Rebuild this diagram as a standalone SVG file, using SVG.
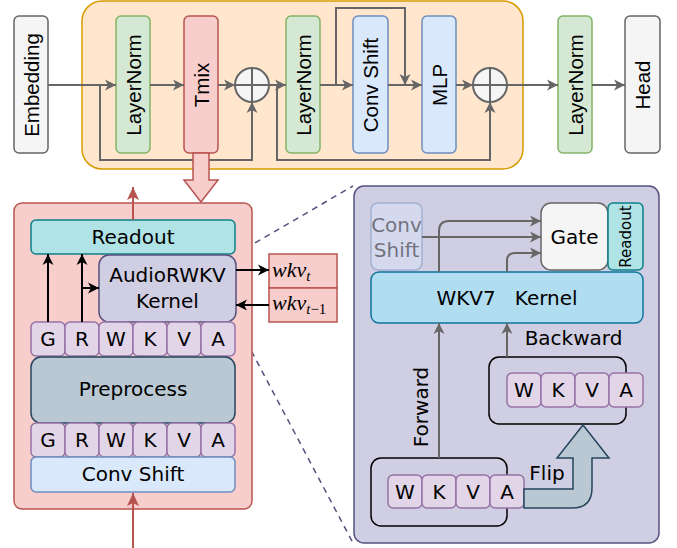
<svg xmlns="http://www.w3.org/2000/svg" width="677" height="548" viewBox="0 0 677 548">
<defs>
<style>
.t{font-family:"Liberation Sans",Arial,sans-serif;font-size:20.5px;fill:#000;text-anchor:middle;dominant-baseline:central}
.d{font-family:"DejaVu Sans",Verdana,sans-serif;font-size:20px;fill:#000;text-anchor:middle;dominant-baseline:central}
.m{font-family:"Liberation Serif","Times New Roman",serif;font-style:italic;font-size:22px;fill:#000}
.g{fill:none;stroke:#666;stroke-width:2}
.gk{fill:none;stroke:#000;stroke-width:2}
.rd{fill:none;stroke:#b85450;stroke-width:2}
.ln{fill:#d5e8d4;stroke:#82b366;stroke-width:1.5}
.gr{fill:#f5f5f5;stroke:#666;stroke-width:1.5}
.bl{fill:#dae8fc;stroke:#6c8ebf;stroke-width:1.5}
.cell{fill:#e1d5e7;stroke:#9673a6;stroke-width:1.5}
.ro{fill:#b0e3e6;stroke:#0e8088;stroke-width:1.5}
.pu{fill:#d0cee2;stroke:#56517e;stroke-width:1.5}
.dash{fill:none;stroke:#56517e;stroke-width:1.5;stroke-dasharray:6 5}
</style>
<marker id="ag" markerUnits="userSpaceOnUse" markerWidth="12" markerHeight="12" refX="11" refY="6" orient="auto">
<path d="M0,0.5 L11,6 L0,11.5 L3,6 Z" fill="#666"/>
</marker>
<marker id="ak" markerUnits="userSpaceOnUse" markerWidth="12" markerHeight="12" refX="11" refY="6" orient="auto">
<path d="M0,0.5 L11,6 L0,11.5 L3,6 Z" fill="#000"/>
</marker>
<marker id="ar" markerUnits="userSpaceOnUse" markerWidth="14" markerHeight="12" refX="13" refY="6" orient="auto">
<path d="M0,0 L13,6 L0,12 L3,6 Z" fill="#b85450"/>
</marker>
</defs>

<g id="block">
<rect x="82" y="1" width="441" height="168" rx="20" fill="#ffe6cc" stroke="#d79b00" stroke-width="1.5"/>
</g>

<g id="embedding"><rect class="gr" x="14" y="16" width="34" height="137" rx="5"/><text class="t" x="31" y="85" transform="rotate(-90 31 85)">Embedding</text></g>
<g id="ln1"><rect class="ln" x="116" y="16" width="34" height="137" rx="5"/><text class="t" x="133" y="85" transform="rotate(-90 133 85)">LayerNorm</text></g>
<g id="tmix"><rect x="184" y="16" width="34" height="137" rx="5" fill="#f8cecc" stroke="#b85450" stroke-width="1.5"/><text class="t" x="201" y="85" transform="rotate(-90 201 85)">Tmix</text></g>
<g id="add1"><circle cx="252" cy="85" r="17" fill="#f5f5f5" stroke="#666" stroke-width="2"/><path d="M252,68 V102 M235,85 H269" stroke="#666" stroke-width="2"/></g>
<g id="ln2"><rect class="ln" x="286" y="16" width="34" height="137" rx="5"/><text class="t" x="303" y="85" transform="rotate(-90 303 85)">LayerNorm</text></g>
<g id="convshift_top"><rect class="bl" x="353" y="16" width="35" height="137" rx="5"/><text class="t" x="370.5" y="85" transform="rotate(-90 370.5 85)">Conv Shift</text></g>
<g id="mlp"><rect class="bl" x="422" y="16" width="34" height="137" rx="5"/><text class="t" x="439" y="85" transform="rotate(-90 439 85)">MLP</text></g>
<g id="add2"><circle cx="490" cy="85" r="17" fill="#f5f5f5" stroke="#666" stroke-width="2"/><path d="M490,68 V102 M473,85 H507" stroke="#666" stroke-width="2"/></g>
<g id="ln3"><rect class="ln" x="558" y="16" width="34" height="137" rx="5"/><text class="t" x="575" y="85" transform="rotate(-90 575 85)">LayerNorm</text></g>
<g id="head"><rect class="gr" x="625" y="16" width="35" height="137" rx="5"/><text class="t" x="642.5" y="85" transform="rotate(-90 642.5 85)">Head</text></g>

<g id="connectors">
<path class="g" d="M48,85 H116" marker-end="url(#ag)"/>
<path class="g" d="M150,85 H184" marker-end="url(#ag)"/>
<path class="g" d="M218,85 H235" marker-end="url(#ag)"/>
<path class="g" d="M269,85 H286" marker-end="url(#ag)"/>
<path class="g" d="M100,85 V160 H252 V102" marker-end="url(#ag)"/>
<path class="g" d="M320,85 H353" marker-end="url(#ag)"/>
<path class="g" d="M336,85 V8 H405 V85" marker-end="url(#ag)"/>
<path class="g" d="M388,85 H422" marker-end="url(#ag)"/>
<path class="g" d="M456,85 H473" marker-end="url(#ag)"/>
<path class="g" d="M277,85 V160 H490 V102" marker-end="url(#ag)"/>
<path class="g" d="M507,85 H558" marker-end="url(#ag)"/>
<path class="g" d="M592,85 H625" marker-end="url(#ag)"/>
<path d="M193,153 H209 V180 H218 L201,202 L184,180 H193 Z" fill="#f8cecc" stroke="#b85450" stroke-width="1.5"/>
<path class="dash" d="M236,254 L353,186"/>
<path class="dash" d="M236,322 L353,543"/>
</g>

<g id="tmix_detail"><rect x="14" y="203" width="238" height="306" rx="8" fill="#f8cecc" stroke="#b85450" stroke-width="1.5"/></g>
<g id="readout"><rect class="ro" x="31" y="220" width="204" height="34" rx="5"/><text class="d" x="133" y="237">Readout</text></g>
<g id="audiokernel"><rect class="pu" x="99" y="255" width="137" height="67" rx="10"/><text class="d" x="167.5" y="275">AudioRWKV</text><text class="d" x="167.5" y="301">Kernel</text></g>
<g id="row1">
<rect class="cell" x="31" y="322" width="34" height="34" rx="5"/><text class="d" x="48" y="339">G</text>
<rect class="cell" x="65" y="322" width="34" height="34" rx="5"/><text class="d" x="82" y="339">R</text>
<rect class="cell" x="99" y="322" width="34" height="34" rx="5"/><text class="d" x="116" y="339">W</text>
<rect class="cell" x="133" y="322" width="34" height="34" rx="5"/><text class="d" x="150" y="339">K</text>
<rect class="cell" x="167" y="322" width="34" height="34" rx="5"/><text class="d" x="184" y="339">V</text>
<rect class="cell" x="201" y="322" width="34" height="34" rx="5"/><text class="d" x="218" y="339">A</text>
</g>
<g id="preprocess"><rect x="31" y="357" width="204" height="66" rx="10" fill="#bac8d3" stroke="#23445d" stroke-width="1.5"/><text class="d" x="133" y="389">Preprocess</text></g>
<g id="row2">
<rect class="cell" x="31" y="423" width="34" height="34" rx="5"/><text class="d" x="48" y="440">G</text>
<rect class="cell" x="65" y="423" width="34" height="34" rx="5"/><text class="d" x="82" y="440">R</text>
<rect class="cell" x="99" y="423" width="34" height="34" rx="5"/><text class="d" x="116" y="440">W</text>
<rect class="cell" x="133" y="423" width="34" height="34" rx="5"/><text class="d" x="150" y="440">K</text>
<rect class="cell" x="167" y="423" width="34" height="34" rx="5"/><text class="d" x="184" y="440">V</text>
<rect class="cell" x="201" y="423" width="34" height="34" rx="5"/><text class="d" x="218" y="440">A</text>
</g>
<g id="convshift_left"><rect class="bl" x="31" y="457" width="204" height="35" rx="5"/><text class="d" x="133" y="474">Conv Shift</text></g>
<g id="wkvt"><rect x="269" y="254" width="68" height="34" fill="#f8cecc" stroke="#b85450" stroke-width="1.5"/><text class="m" x="272" y="277">wkv<tspan font-size="15" dy="4">t</tspan></text></g>
<g id="wkvt1"><rect x="269" y="288" width="68" height="34" fill="#f8cecc" stroke="#b85450" stroke-width="1.5"/><text class="m" x="272" y="310">wkv<tspan font-size="15" dy="4">t</tspan><tspan font-size="15" font-style="normal">−1</tspan></text></g>

<g id="left_connectors">
<path class="gk" d="M48,322 V254" marker-end="url(#ak)"/>
<path class="gk" d="M82,322 V254" marker-end="url(#ak)"/>
<path class="gk" d="M82,288 H99" marker-end="url(#ak)"/>
<path class="gk" d="M236,270 H269" marker-end="url(#ak)"/>
<path class="gk" d="M269,305 H236" marker-end="url(#ak)"/>
<path class="rd" d="M133,220 V187" marker-end="url(#ar)"/>
<path class="rd" d="M133,548 V493" marker-end="url(#ar)"/>
</g>

<g id="kernel_detail"><rect class="pu" x="354" y="186" width="305" height="357" rx="10"/></g>
<g id="convshift_faded" opacity="0.45"><rect class="bl" x="371" y="203" width="51" height="67" rx="7"/><text class="d" x="396.5" y="225" fill="#555">Conv</text><text class="d" x="396.5" y="250" fill="#555">Shift</text></g>
<g id="gate"><rect class="gr" x="541" y="203" width="67" height="67" rx="10"/><text class="d" x="574.5" y="236.5">Gate</text></g>
<g id="readout_r"><rect class="ro" x="608" y="203" width="35" height="67" rx="5"/><text class="d" x="625.5" y="236.5" transform="rotate(-90 625.5 236.5)" style="font-size:15px">Readout</text></g>
<g id="wkv7"><rect x="371" y="272" width="272" height="51" rx="8" fill="#b1ddf0" stroke="#10739e" stroke-width="1.5"/><text class="d" x="507" y="297.5" xml:space="preserve">WKV7   Kernel</text></g>
<g id="backward_box"><rect x="489" y="357" width="137" height="67" rx="10" fill="none" stroke="#000" stroke-width="1.5"/>
<rect class="cell" x="507" y="373" width="34" height="34" rx="5"/><text class="d" x="524" y="390">W</text>
<rect class="cell" x="541" y="373" width="34" height="34" rx="5"/><text class="d" x="558" y="390">K</text>
<rect class="cell" x="575" y="373" width="34" height="34" rx="5"/><text class="d" x="592" y="390">V</text>
<rect class="cell" x="609" y="373" width="34" height="34" rx="5"/><text class="d" x="626" y="390">A</text>
</g>
<g id="forward_box"><rect x="371" y="458" width="136" height="68" rx="10" fill="none" stroke="#000" stroke-width="1.5"/>
<rect class="cell" x="388" y="475" width="34" height="33" rx="5"/><text class="d" x="405" y="491.5">W</text>
<rect class="cell" x="422" y="475" width="34" height="33" rx="5"/><text class="d" x="439" y="491.5">K</text>
<rect class="cell" x="456" y="475" width="34" height="33" rx="5"/><text class="d" x="473" y="491.5">V</text>
<rect class="cell" x="490" y="475" width="34" height="33" rx="5"/><text class="d" x="507" y="491.5">A</text>
</g>
<g id="flip"><path d="M524,489 H573 V458 H557 L583,425 L609,458 H592 V488 Q592,508 572,508 H524 Z" fill="#bac8d3" stroke="#23445d" stroke-width="1.5"/><text class="d" x="547" y="473">Flip</text></g>

<g id="right_connectors">
<path class="g" d="M439,272 V231 Q439,221 449,221 H541" marker-end="url(#ag)"/>
<path class="g" d="M422,237 H541" marker-end="url(#ag)"/>
<path class="g" d="M507,272 V261 Q507,253 515,253 H541" marker-end="url(#ag)"/>
<path class="g" d="M439,458 V323" marker-end="url(#ag)"/>
<path class="g" d="M507,357 V323" marker-end="url(#ag)"/>
<text class="d" x="573.5" y="338">Backward</text>
<text class="d" x="421" y="407" transform="rotate(-90 421 407)">Forward</text>
</g>
</svg>
